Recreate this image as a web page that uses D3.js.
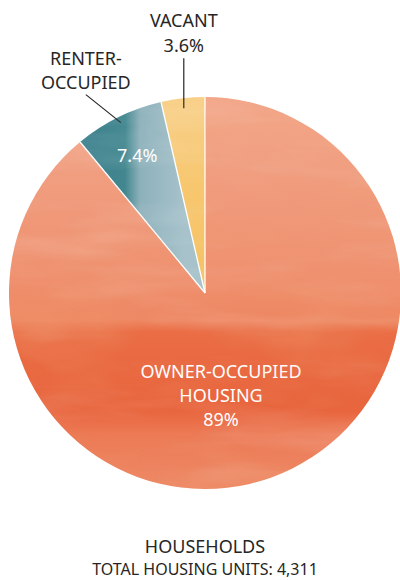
<!DOCTYPE html>
<meta charset="utf-8">
<style>
  body { margin: 0; background: white; }
  text { font-family: "Noto Sans", sans-serif; }
</style>
<body>
<script src="https://d3js.org/d3.v7.min.js"></script>
<script>
  var categories = ["VACANT", "RENTER-OCCUPIED", "OWNER-OCCUPIED HOUSING"];
  var values = [3.6, 7.4, 89];
  var valueLabels = ["3.6%", "7.4%", "89%"];
  var title = "HOUSEHOLDS";
  var subtitle = "TOTAL HOUSING UNITS: 4,311";

  var width = 400, height = 580;
  var cx = 205, cy = 293, radius = 196;

  var svg = d3.select("body").append("svg")
      .attr("width", width)
      .attr("height", height);

  var defs = svg.append("defs");

  // watercolour-ish gradients (coords are relative to the pie centre)
  var gOrange = defs.append("linearGradient").attr("id", "gOrange")
      .attr("gradientUnits", "userSpaceOnUse")
      .attr("x1", 0).attr("y1", -radius).attr("x2", 0).attr("y2", radius);
  [[0, "#f3a88c"], [0.25, "#f09b7c"], [0.45, "#ef916f"], [0.57, "#ee8762"],
   [0.6, "#ea6d45"], [0.8, "#e8653d"], [0.86, "#ec7a55"], [1, "#ee8a67"]]
    .forEach(function(s) { gOrange.append("stop").attr("offset", s[0]).attr("stop-color", s[1]); });

  var gTeal = defs.append("linearGradient").attr("id", "gTeal")
      .attr("gradientUnits", "userSpaceOnUse")
      .attr("x1", -120).attr("y1", 0).attr("x2", -20).attr("y2", 0);
  [[0, "#3b808d"], [0.4, "#42878f"], [0.55, "#8db1bb"], [1, "#a7c2cb"]]
    .forEach(function(s) { gTeal.append("stop").attr("offset", s[0]).attr("stop-color", s[1]); });

  var gYellow = defs.append("linearGradient").attr("id", "gYellow")
      .attr("gradientUnits", "userSpaceOnUse")
      .attr("x1", 0).attr("y1", -radius).attr("x2", 0).attr("y2", 0);
  [[0, "#f8d089"], [0.5, "#f7c66d"], [1, "#f5c265"]]
    .forEach(function(s) { gYellow.append("stop").attr("offset", s[0]).attr("stop-color", s[1]); });

  var fills = ["url(#gYellow)", "url(#gTeal)", "url(#gOrange)"];

  // streaky texture, light
  var filter = defs.append("filter").attr("id", "wash")
      .attr("x", 0).attr("y", 0).attr("width", 1).attr("height", 1);
  filter.append("feTurbulence")
      .attr("type", "fractalNoise")
      .attr("baseFrequency", "0.005 0.03")
      .attr("numOctaves", 4)
      .attr("seed", 7);
  filter.append("feColorMatrix")
      .attr("type", "matrix")
      .attr("values", "0 0 0 0 1  0 0 0 0 1  0 0 0 0 1  1.4 0 0 0 -0.65");

  // blotchy texture, dark
  var filter2 = defs.append("filter").attr("id", "blot")
      .attr("x", 0).attr("y", 0).attr("width", 1).attr("height", 1);
  filter2.append("feTurbulence")
      .attr("type", "fractalNoise")
      .attr("baseFrequency", "0.008 0.02")
      .attr("numOctaves", 3)
      .attr("seed", 3);
  filter2.append("feColorMatrix")
      .attr("type", "matrix")
      .attr("values", "0 0 0 0 0.88  0 0 0 0 0.36  0 0 0 0 0.18  2.2 0 0 0 -1.05");

  defs.append("clipPath").attr("id", "pieClip")
    .append("circle").attr("cx", cx).attr("cy", cy).attr("r", radius);

  var pie = d3.pie().sort(null).startAngle(0).endAngle(-2 * Math.PI);
  var arcs = pie(values);
  var arc = d3.arc().innerRadius(0).outerRadius(radius);

  defs.append("clipPath").attr("id", "ownerClip")
    .append("path")
      .attr("transform", "translate(" + cx + "," + cy + ")")
      .attr("d", arc(arcs[2]));

  var g = svg.append("g").attr("transform", "translate(" + cx + "," + cy + ")");

  g.selectAll("path.slice")
    .data(arcs)
    .enter().append("path")
      .attr("class", "slice")
      .attr("d", arc)
      .attr("fill", function(d, i) { return fills[i]; });

  svg.append("rect")
      .attr("x", cx - radius).attr("y", cy - radius)
      .attr("width", radius * 2).attr("height", radius * 2)
      .attr("clip-path", "url(#ownerClip)")
      .attr("filter", "url(#blot)")
      .attr("opacity", 0.35);

  svg.append("rect")
      .attr("x", cx - radius).attr("y", cy - radius)
      .attr("width", radius * 2).attr("height", radius * 2)
      .attr("clip-path", "url(#pieClip)")
      .attr("filter", "url(#wash)")
      .attr("opacity", 0.22);

  // white separators
  g.selectAll("line.sep")
    .data(arcs)
    .enter().append("line")
      .attr("class", "sep")
      .attr("x1", 0).attr("y1", 0)
      .attr("x2", function(d) { return radius * Math.sin(d.startAngle); })
      .attr("y2", function(d) { return -radius * Math.cos(d.startAngle); })
      .attr("stroke", "white")
      .attr("stroke-width", 1.3);

  function pt(angle, r) {
    return [r * Math.sin(angle), -r * Math.cos(angle)];
  }
  function mid(d) { return (d.startAngle + d.endAngle) / 2; }

  var dark = "#262626";
  var fs = 18;

  // vacant: outside label with vertical leader
  var a0 = arcs[0];
  var p0 = pt(mid(a0), radius - 8);
  g.append("line")
      .attr("x1", p0[0]).attr("y1", p0[1] + 2)
      .attr("x2", p0[0]).attr("y2", p0[1] - 48)
      .attr("stroke", dark).attr("stroke-width", 1.2);
  g.append("text")
      .attr("x", p0[0]).attr("y", p0[1] - 79)
      .attr("text-anchor", "middle").attr("font-size", fs).attr("fill", dark)
      .text(categories[0]);
  g.append("text")
      .attr("x", p0[0]).attr("y", p0[1] - 54)
      .attr("text-anchor", "middle").attr("font-size", fs).attr("fill", dark)
      .text(valueLabels[0]);

  // renter: outside label with slanted leader, value inside
  var a1 = arcs[1];
  var p1 = pt(mid(a1), radius - 6);
  g.append("line")
      .attr("x1", p1[0]).attr("y1", p1[1])
      .attr("x2", p1[0] - 35).attr("y2", p1[1] - 28)
      .attr("stroke", dark).attr("stroke-width", 1.2);
  var rParts = categories[1].split("-");
  g.append("text")
      .attr("x", p1[0] - 35).attr("y", p1[1] - 58)
      .attr("text-anchor", "middle").attr("font-size", fs).attr("fill", dark)
      .text(rParts[0] + "-");
  g.append("text")
      .attr("x", p1[0] - 35).attr("y", p1[1] - 34)
      .attr("text-anchor", "middle").attr("font-size", fs).attr("fill", dark)
      .text(rParts[1]);
  var q1 = pt(mid(a1), 153);
  g.append("text")
      .attr("x", q1[0]).attr("y", q1[1] + 6)
      .attr("text-anchor", "middle").attr("font-size", fs).attr("fill", "white")
      .text(valueLabels[1]);

  // owner: label inside
  var oLines = ["OWNER-OCCUPIED", "HOUSING", valueLabels[2]];
  g.selectAll("text.owner")
    .data(oLines)
    .enter().append("text")
      .attr("class", "owner")
      .attr("x", 16)
      .attr("y", function(d, i) { return 85 + i * 24; })
      .attr("text-anchor", "middle").attr("font-size", fs).attr("fill", "white")
      .text(function(d) { return d; });

  svg.append("text")
      .attr("x", cx).attr("y", 553)
      .attr("text-anchor", "middle").attr("font-size", fs).attr("fill", dark)
      .text(title);
  svg.append("text")
      .attr("x", cx).attr("y", 575)
      .attr("text-anchor", "middle").attr("font-size", 16).attr("fill", dark)
      .text(subtitle);
</script>
</body>
